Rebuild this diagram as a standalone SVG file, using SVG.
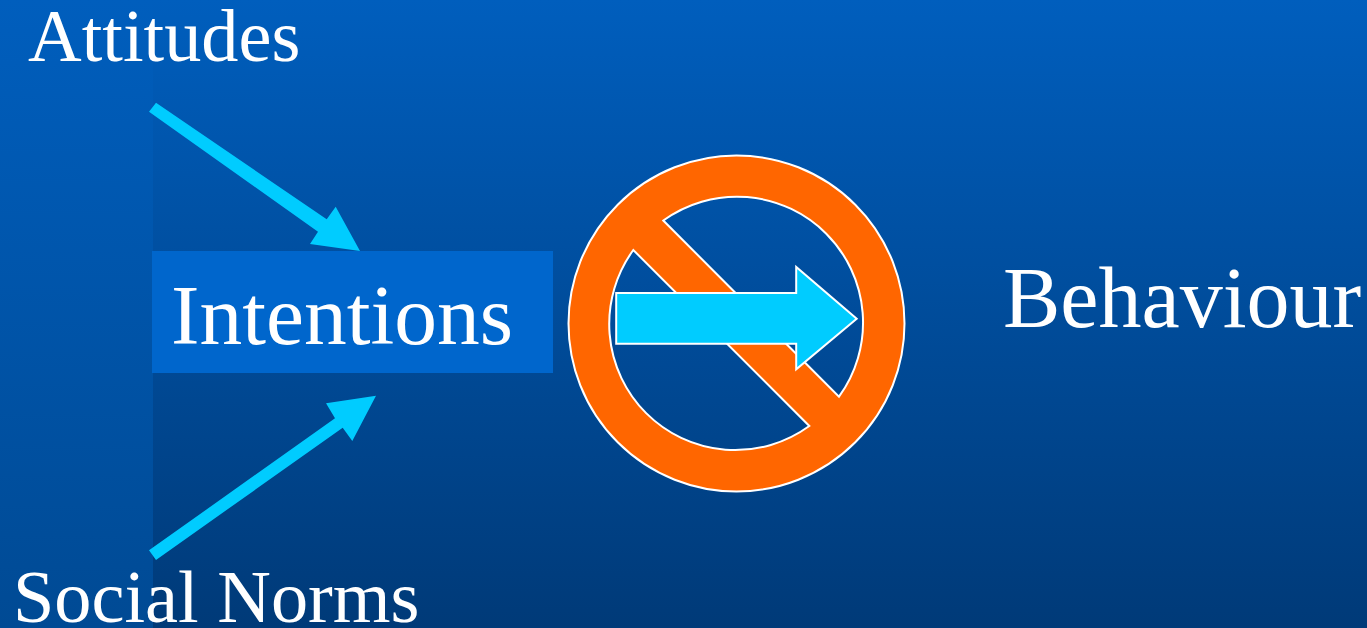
<svg xmlns="http://www.w3.org/2000/svg" width="1367" height="628" viewBox="0 0 1367 628">
<style>
text{font-family:"Liberation Serif","Times New Roman",serif;fill:#fff}
.arrow{fill:#0cf}
.sign{fill:#f60;stroke:#fff;stroke-width:2}
</style>
<defs>
<linearGradient id="bg" x1="0" y1="0" x2="0" y2="1"><stop offset="0" stop-color="#005ebd"/><stop offset="1" stop-color="#003a78"/></linearGradient>
<linearGradient id="band" x1="0" y1="0" x2="0" y2="1"><stop offset="0" stop-color="#005ebd"/><stop offset="1" stop-color="#004a94"/></linearGradient>
</defs>
<rect width="1367" height="628" fill="url(#bg)"/>
<rect width="153" height="628" fill="url(#band)"/>
<g id="attitudes"><text x="28" y="61" font-size="74.300">Attitudes</text></g>
<g id="social-norms"><text x="13" y="622" font-size="74.300">Social Norms</text></g>
<g id="intentions"><rect x="152" y="251" width="401" height="122" fill="#0066cc"/><text x="171" y="344" font-size="85.500">Intentions</text></g>
<g id="behaviour"><text x="1003" y="327" font-size="86">Behaviour</text></g>
<g id="no-sign"><path class="sign" fill-rule="evenodd" d="M736.500 155.500A168 168 0 1 0 736.500 491.500A168 168 0 1 0 736.500 155.500ZM663.300 220.500A126 126 0 0 1 839 396.700ZM809.300 426A126 126 0 0 1 633.300 250Z"/></g>
<g id="connectors">
<polygon class="arrow" points="156,102.700 326.700,219.300 335.700,206.700 360,251 310,244 318,231.700 149,111.700"/>
<polygon class="arrow" points="149,550.300 335,418.300 326,403.300 376,395.700 352.300,441 342.700,427.700 156,560"/>
<polygon points="616.200,293 796.200,293 796.200,267 856.700,318.700 796.200,369.300 796.200,343.800 616.200,343.800" fill="#0cf" stroke="#fff" stroke-width="2"/>
</g>
</svg>
